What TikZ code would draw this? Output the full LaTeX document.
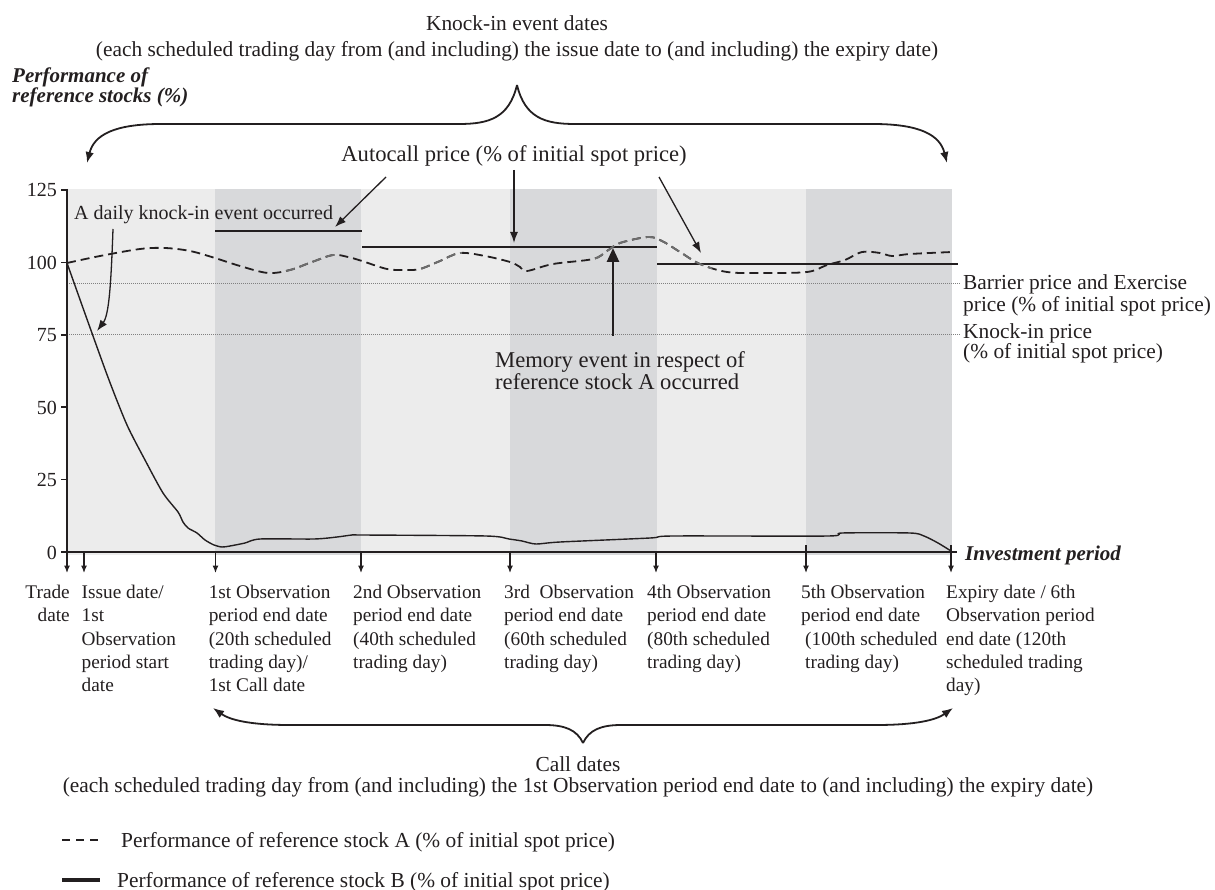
\documentclass[tikz,border=0pt]{standalone}
\usepackage{fontspec}
\setmainfont{Liberation Serif}
\usetikzlibrary{arrows.meta}
\definecolor{lband}{HTML}{ECECEC}
\definecolor{dband}{HTML}{D8D9DB}
\definecolor{ink}{HTML}{231F20}
\definecolor{dotc}{HTML}{808080}
\definecolor{gdash}{HTML}{6E6E6E}
\newcommand{\curveApts}{(67,263) (100,256) (140,249) (165,248) (190,251) (215,258) (240,266) (268,273) (290,270) (312,262) (333,255) (348,257) (362,261) (387,269) (405,270) (420,269) (440,261) (460,253) (485,256) (510,262) (520,267) (527,271) (553,264) (593,259) (607,251) (620,243) (648,237) (662,241) (680,252) (700,264) (727,272) (760,273) (807,272) (827,265) (845,260) (862,252) (880,253) (892,256) (910,254) (952,252)}
\begin{document}
\begin{tikzpicture}[x=1pt,y=-1pt,
  txt/.style={inner sep=0pt, text=ink},
  bigf/.style={font=\fontsize{21.4}{26}\selectfont},
  midf/.style={font=\fontsize{22.6}{22}\selectfont},
  smallf/.style={font=\fontsize{19.3}{23.3}\selectfont},
  tickf/.style={font=\fontsize{20}{24}\selectfont},
  arr/.style={draw=ink, line width=1.3pt, -{Latex[length=11pt,width=8pt]}},
  darr/.style={draw=ink, line width=1.2pt, -{Latex[length=7.5pt,width=6pt]}},
  brace/.style={draw=ink, line width=1.8pt, -{Latex[length=11pt,width=8.5pt]}},
  autol/.style={draw=ink, line width=1.3pt},
  dotl/.style={draw=dotc, line width=0.7pt, dash pattern=on 1pt off 1pt},
  stockA/.style={line width=1.8pt, dash pattern=on 9pt off 5pt},
  stockB/.style={draw=ink, line width=1.4pt},
]
\useasboundingbox (0,0) rectangle (1215,890);

% background bands
\fill[lband] (67,189) rectangle (952,555);
\fill[dband] (215,189) rectangle (361,555);
\fill[dband] (510,189) rectangle (657,555);
\fill[dband] (806,189) rectangle (952,555);

% top texts
\node[txt,bigf,anchor=base] (kitop) at (517,31) {Knock-in event dates};
\node[txt,bigf,anchor=base] (kitop2) at (517,57) {(each scheduled trading day from (and including) the issue date to (and including) the expiry date)};
\node[txt,anchor=base west,align=left,font=\fontsize{21}{19.5}\selectfont\bfseries\itshape] (ylab) at (12,102.5) {Performance of\\reference stocks (\%)};

% top brace
\coordinate (tbpeak) at (517,85);
\coordinate (tbl) at (87,163);
\coordinate (tbr) at (947,163);
\draw[brace] (tbpeak) .. controls (509,118) and (489,124) .. (459,124) -- (161,124) .. controls (114,124) and (94,135) .. (tbl);
\draw[brace] (tbpeak) .. controls (525,118) and (545,124) .. (575,124) -- (873,124) .. controls (920,124) and (940,135) .. (tbr);

% autocall
\node[txt,midf,anchor=base] (auto) at (514,162) {Autocall price (\% of initial spot price)};
\coordinate (a1s) at (386,177); \coordinate (a1e) at (335,227);
\coordinate (a2s) at (514,170); \coordinate (a2e) at (514,243);
\coordinate (a3s) at (659,177); \coordinate (a3e) at (701,253);
\draw[arr] (a1s) -- (a1e);
\draw[arr] (a2s) -- (a2e);
\draw[arr] (a3s) -- (a3e);

% autocall levels
\draw[autol] (215,231) -- (362,231);
\draw[autol] (362,247) -- (657,247);
\draw[autol] (657,264) -- (958,264);

% barrier and knock-in levels
\draw[dotl] (67,283.5) -- (960,283.5);
\draw[dotl] (67,334.5) -- (960,334.5);
\node[txt,anchor=base west,align=left,font=\fontsize{21.4}{22}\selectfont] (barr) at (963,312) {Barrier price and Exercise\\price (\% of initial spot price)};
\node[txt,anchor=base west,align=left,font=\fontsize{21.4}{19}\selectfont] (kip) at (963,359) {Knock-in price\\(\% of initial spot price)};

% stock A
\draw[stockA,draw=ink] plot[smooth,tension=0.55] coordinates {\curveApts};
\begin{scope}
\clip (282,200) rectangle (336,300) (420,200) rectangle (462,300) (593,200) rectangle (712,300);
\draw[stockA,draw=gdash] plot[smooth,tension=0.55] coordinates {\curveApts};
\end{scope}

% stock B
\draw[stockB] plot[smooth,tension=0.45] coordinates {(67,263) (88,322) (109,380) (127,425) (145,460) (163,493) (178,512) (183,522) (188,528) (197,533) (205,540) (214,545) (222,547) (230,546) (245,543) (260,539) (314,539) (337,537) (352,535) (362,535) (486,536) (509,539) (522,541) (536,544) (560,542) (650,538) (673,536) (828,536) (842,533) (910,533) (924,536) (938,543) (951,551)};

% daily knock-in
\node[txt,tickf,anchor=base west] (daily) at (74,220) {A daily knock-in event occurred};
\coordinate (dke) at (97,331);
\draw[arr] (113,229) .. controls (111,285) and (109,315) .. (dke);

% memory event
\node[txt,midf,anchor=base west,align=left] (mem) at (495,389) {Memory event in respect of\\reference stock A occurred};
\coordinate (memt) at (613,248);
\draw[draw=ink,line width=2.6pt,-{Triangle[length=14pt,width=12pt]}] (613,336) -- (memt);

% axes
\draw[draw=ink,line width=2.2pt] (67,189) -- (67,552) -- (957,552);
\foreach \v/\yy in {125/190,100/262.4,75/334.8,50/407.2,25/479.6,0/552}{
  \draw[draw=ink,line width=1.6pt] (61,\yy) -- (67,\yy);
  \node[txt,tickf,anchor=base east] (tick\v) at (57,\yy+7) {\v};
}
\node[txt,anchor=base west,font=\fontsize{21}{24}\selectfont\bfseries\itshape] (invp) at (965,560) {Investment period};

% date arrows
\foreach \xx/\ys in {67/552,84/552,215.5/552,361/552,510/552,656/552,806/545,951/545}{
  \draw[darr] (\xx,\ys) -- (\xx,573);
}

% date labels (anchored at the baseline of their last line)
\node[txt,smallf,anchor=base east,align=right] (ltrade) at (70,621.8) {Trade\\date};
\node[txt,smallf,anchor=base west,align=left] (lissue) at (81.5,691.7) {Issue date/\\1st\\Observation\\period start\\date};
\node[txt,smallf,anchor=base west,align=left] (lobs1) at (208.6,691.7) {1st Observation\\period end date\\(20th scheduled\\trading day)/\\1st Call date};
\node[txt,smallf,anchor=base west,align=left] (lobs2) at (353,668.4) {2nd Observation\\period end date\\(40th scheduled\\trading day)};
\node[txt,smallf,anchor=base west,align=left] (lobs3) at (504,668.4) {3rd\ \ Observation\\period end date\\(60th scheduled\\trading day)};
\node[txt,smallf,anchor=base west,align=left] (lobs4) at (647,668.4) {4th Observation\\period end date\\(80th scheduled\\trading day)};
\node[txt,smallf,anchor=base west,align=left] (lobs5) at (801,668.4) {5th Observation\\period end date\\\hspace*{4pt}(100th scheduled\\\hspace*{4pt}trading day)};
\node[txt,smallf,anchor=base west,align=left] (lexp) at (946,691.7) {Expiry date / 6th\\Observation period\\end date (120th\\scheduled trading\\day)};

% bottom brace
\coordinate (bbc) at (583,743);
\coordinate (bbl) at (213,708);
\coordinate (bbr) at (953,708);
\draw[brace] (bbc) .. controls (577,730) and (565,725) .. (545,725) -- (290,725) .. controls (250,725) and (230,720) .. (bbl);
\draw[brace] (bbc) .. controls (589,730) and (601,725) .. (621,725) -- (876,725) .. controls (916,725) and (936,720) .. (bbr);
\node[txt,bigf,anchor=base] (calld) at (578,771) {Call dates};
\node[txt,bigf,anchor=base] (calld2) at (578,792) {(each scheduled trading day from (and including) the 1st Observation period end date to (and including) the expiry date)};

% legend
\coordinate (lga1) at (62,840); \coordinate (lga2) at (98,840);
\coordinate (lgb1) at (62,880); \coordinate (lgb2) at (100,880);
\draw[draw=ink,line width=1.8pt,dash pattern=on 8pt off 6pt] (lga1) -- (lga2);
\draw[draw=ink,line width=3.5pt] (lgb1) -- (lgb2);
\node[txt,bigf,anchor=base west] (lega) at (121,847) {Performance of reference stock A (\% of initial spot price)};
\node[txt,bigf,anchor=base west] (legb) at (117,887) {Performance of reference stock B (\% of initial spot price)};
\end{tikzpicture}
\end{document}
